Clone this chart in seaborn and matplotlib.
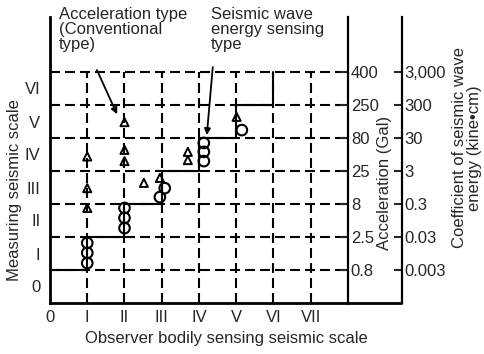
import matplotlib
matplotlib.use("Agg")
import matplotlib.pyplot as plt
import seaborn as sns
import pandas as pd
from matplotlib import font_manager

# ---------------- data ----------------
obs_labels = ["0", "I", "II", "III", "IV", "V", "VI", "VII"]
meas_labels = ["0", "I", "II", "III", "IV", "V", "VI"]
levels = [1, 2, 3, 4, 5, 6, 7]
accel_labels = ["0.8", "2.5", "8", "25", "80", "250", "400"]
energy_labels = ["0.003", "0.03", "0.3", "3", "30", "300", "3,000"]

# acceleration type (triangles)
tri_x = [1, 1, 1, 2, 2, 2, 2.52, 2.95, 3.70, 3.70, 5.01]
tri_y = [4.44, 3.48, 2.88, 5.48, 4.64, 4.30, 3.64, 3.79, 4.58, 4.33, 5.64]
# seismic wave energy sensing type (circles)
circ_x = [1, 1, 1, 2, 2, 2, 2.95, 3.08, 4.13, 4.13, 4.13, 5.15]
circ_y = [1.82, 1.52, 1.21, 2.88, 2.58, 2.27, 3.21, 3.48, 4.85, 4.58, 4.30, 5.24]
# staircase boundary
step_x = [0, 1, 2, 3, 4, 5, 6]
step_y = [1, 2, 3, 4, 5, 6, 7]

# annotation arrows (start -> tip), data units
arrow1_from, arrow1_to = (1.26, 7.06), (1.80, 5.72)
arrow2_from, arrow2_to = (4.37, 7.15), (4.21, 5.09)

# ---------------- style ----------------
sns.set_style("white")
names = {f.name for f in font_manager.fontManager.ttflist}
narrow = "Liberation Sans Narrow" in names
fam = "Liberation Sans Narrow" if narrow else "Liberation Sans"
plt.rcParams["font.family"] = [fam, "DejaVu Sans"]
FS = 13 if narrow else 12

W, H = 484, 354
fig = plt.figure(figsize=(W / 100, H / 100), dpi=100)
fig.patch.set_facecolor("white")
ax = fig.add_axes([50 / W, 51 / H, 298 / W, 286 / H])
YMAX = 286 / 33
ax.set_xlim(0, 8)
ax.set_ylim(0, YMAX)
ax.set_facecolor("white")

dash = (0, (4.8, 2.4))
ax.hlines(levels, 0, 8, colors="black", linestyles=dash, lw=1.5, zorder=1)
ax.vlines(levels, 0, 7, colors="black", linestyles=dash, lw=1.5, zorder=1)

step_df = pd.DataFrame({"x": step_x, "y": step_y})
sns.lineplot(data=step_df, x="x", y="y", drawstyle="steps-post", color="black",
             lw=1.5, estimator=None, ax=ax, zorder=2)

tri_df = pd.DataFrame({"x": tri_x, "y": tri_y})
circ_df = pd.DataFrame({"x": circ_x, "y": circ_y})
sns.scatterplot(data=tri_df, x="x", y="y", marker="^", s=34, facecolor="none",
                edgecolor="black", linewidth=1.4, ax=ax, zorder=3)
sns.scatterplot(data=circ_df, x="x", y="y", marker="o", s=58, facecolor="none",
                edgecolor="black", linewidth=1.5, ax=ax, zorder=3)

# spines
for s in ["top", "right"]:
    ax.spines[s].set_visible(False)
ax.spines["left"].set_linewidth(2)
ax.spines["bottom"].set_linewidth(2)
ax.spines["left"].set_color("black")
ax.spines["bottom"].set_color("black")
ax.plot([1, (402 - 50) / 298], [0, 0], transform=ax.transAxes,
        color="black", lw=2, clip_on=False, solid_capstyle="butt")

ax.set_xticks(range(len(obs_labels)), obs_labels, fontsize=FS)
ax.set_yticks([v + 0.5 for v in range(len(meas_labels))], meas_labels, fontsize=FS)
ax.tick_params(axis="x", length=0, pad=5)
ax.tick_params(axis="y", length=0, pad=7)
ax.set_xlabel("")
ax.set_ylabel("")

# right axis: acceleration
ax2 = ax.twinx()
ax2.set_ylim(0, YMAX)
for s in ["top", "left", "bottom"]:
    ax2.spines[s].set_visible(False)
ax2.spines["right"].set_linewidth(1.6)
ax2.spines["right"].set_color("black")
ax2.set_yticks(levels, accel_labels, fontsize=FS)
ax2.tick_params(axis="y", direction="in", length=6, width=1.5, pad=2)

# far right axis: energy coefficient
ax3 = ax.twinx()
ax3.set_ylim(0, YMAX)
for s in ["top", "left", "bottom"]:
    ax3.spines[s].set_visible(False)
ax3.spines["right"].set_position(("axes", (402 - 50) / 298))
ax3.spines["right"].set_linewidth(1.6)
ax3.spines["right"].set_color("black")
ax3.set_yticks(levels, energy_labels, fontsize=FS)
ax3.tick_params(axis="y", direction="in", length=6, width=1.5, pad=2)

# axis titles
fig.text(15 / W, 1 - 190 / H, "Measuring seismic scale", rotation=90,
         ha="center", va="center", fontsize=FS)
fig.text(226 / W, 1 - 338 / H, "Observer bodily sensing seismic scale",
         ha="center", va="center", fontsize=FS)
fig.text(384 / W, 1 - 183 / H, "Acceleration (Gal)", rotation=90,
         ha="center", va="center", fontsize=FS)
fig.text(467 / W, 1 - 148 / H, "Coefficient of seismic wave\nenergy (kine\u2022cm)",
         rotation=90, ha="center", va="center", fontsize=FS, linespacing=1.0,
         multialignment="center")

# annotations
fig.text(59 / W, 1 - 7 / H, "Acceleration type\n(Conventional\ntype)",
         ha="left", va="top", fontsize=FS, linespacing=1.02)
fig.text(211 / W, 1 - 7 / H, "Seismic wave\nenergy sensing\ntype",
         ha="left", va="top", fontsize=FS, linespacing=1.02)
ap = dict(arrowstyle="-|>", color="black", lw=1.3, mutation_scale=9,
          shrinkA=0, shrinkB=0)
ax.annotate("", xy=arrow1_to, xytext=arrow1_from, arrowprops=ap, annotation_clip=False)
ax.annotate("", xy=arrow2_to, xytext=arrow2_from, arrowprops=ap, annotation_clip=False)

fig.savefig("out.png", dpi=100, facecolor="white")
